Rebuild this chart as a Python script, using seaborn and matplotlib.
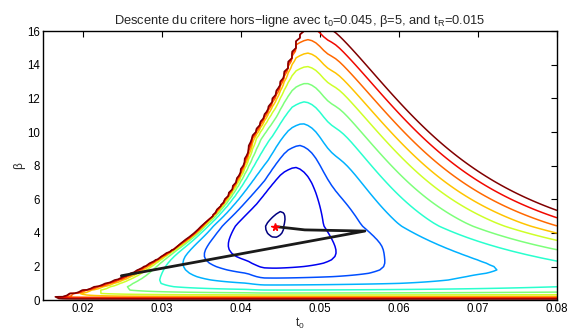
import numpy as np
import matplotlib
matplotlib.use("Agg")
import matplotlib.pyplot as plt
import seaborn as sns

# criterion map: grid of (t0, beta)
t0_grid = np.linspace(0.015, 0.08, 131)
beta_grid = np.linspace(0.0, 16.0, 81)

# minimum of the criterion
t0_min = 0.0443
beta_min = 4.45

# contour levels (11 lines, jet colours)
levels = [0.72, 11.9, 22.6, 36.6, 54.0, 71.4, 89.3, 105.0, 122.0, 140.0, 157.0]

# descent path and final estimate
path_t0 = [0.0249, 0.0557, 0.0481, 0.0445]
path_beta = [1.45, 4.11, 4.18, 4.37]
est_t0 = [0.0443]
est_beta = [4.37]

T0, B = np.meshgrid(t0_grid, beta_grid)

# valley profile along beta
x = beta_min / np.maximum(B, 1e-6) - 1
y = 13 * x ** 2 / (x + 0.5)
V_low = y / (1 + y / 180.0)
V_up = (B - beta_min) ** 2
V = np.where(B < beta_min, V_low, V_up)

# valley centre drifts right with beta
c = t0_min + 0.0045 * (1 - np.exp(-np.maximum(B - beta_min, 0) / 4.0))
p = B * (T0 - c)
bump = 1 + 0.35 * np.exp(-((p - 0.03) / 0.015) ** 2) * (p > 0)
W = 1950 * np.abs(p) ** 1.5 * bump

# steep wall on the left side only
xB = 0.0147 + 0.028 * (1 - np.exp(-B / 3.5)) + 0.0008 * np.maximum(B - 9.6, 0)
q = T0 - xB
m = 1.3 * (1 - np.exp(-B ** 2)) / (1 + (B / 7) ** 4)
m = m * (1 + 0.6 * np.exp(-((B - 1.4) / 1.0) ** 2))
side = np.clip((c - 0.0015 - T0) / 0.002, 0, 1)
qs = np.where(q > 0, q, 1.0)
g = np.maximum((0.005 / qs) ** 0.7 - (0.005 / 0.03) ** 0.7, 0)
Z = np.where(q > 0, (V + W) * (1 + m * g * side), 1e3)
Z = np.minimum(Z, 1e3)

sns.set_theme(style="white")
plt.rcParams["font.family"] = ["Liberation Sans", "DejaVu Sans"]
plt.rcParams["mathtext.fontset"] = "custom"
plt.rcParams["mathtext.rm"] = "Liberation Sans"
plt.rcParams["mathtext.it"] = "Liberation Sans"

fig, ax = plt.subplots(figsize=(5.82, 3.35), dpi=100)
fig.subplots_adjust(left=0.074, right=0.957, bottom=0.104, top=0.907)

cols = [plt.cm.jet(i / 10) for i in range(11)]
ax.contour(T0, B, Z, levels=levels, colors=cols, linewidths=1.1)

sns.lineplot(x=path_t0, y=path_beta, sort=False, color="k", lw=2, ax=ax)
ax.plot(est_t0, est_beta, marker="*", color="red", ms=5.5, ls="none")

ax.set_xlim(0.015, 0.08)
ax.set_ylim(0, 16)
ax.set_xticks([0.02, 0.03, 0.04, 0.05, 0.06, 0.07, 0.08])
ax.set_xticklabels(["0.02", "0.03", "0.04", "0.05", "0.06", "0.07", "0.08"])
ax.set_yticks(range(0, 17, 2))
ax.tick_params(direction="in", length=4, width=0.8, top=True, right=True,
               labelsize=8.3, pad=2, colors="black")
for s in ax.spines.values():
    s.set_color("black")
    s.set_linewidth(1.0)

ax.set_xlabel("t$_0$", fontsize=8.5, labelpad=1)
ax.set_ylabel("β", fontsize=8.5, labelpad=2)
ax.set_title("Descente du critere hors\u2212ligne avec t$_0$=0.045, β=5, and t$_R$=0.015",
             fontsize=9.3, pad=5)

fig.savefig("out.png", dpi=100)
